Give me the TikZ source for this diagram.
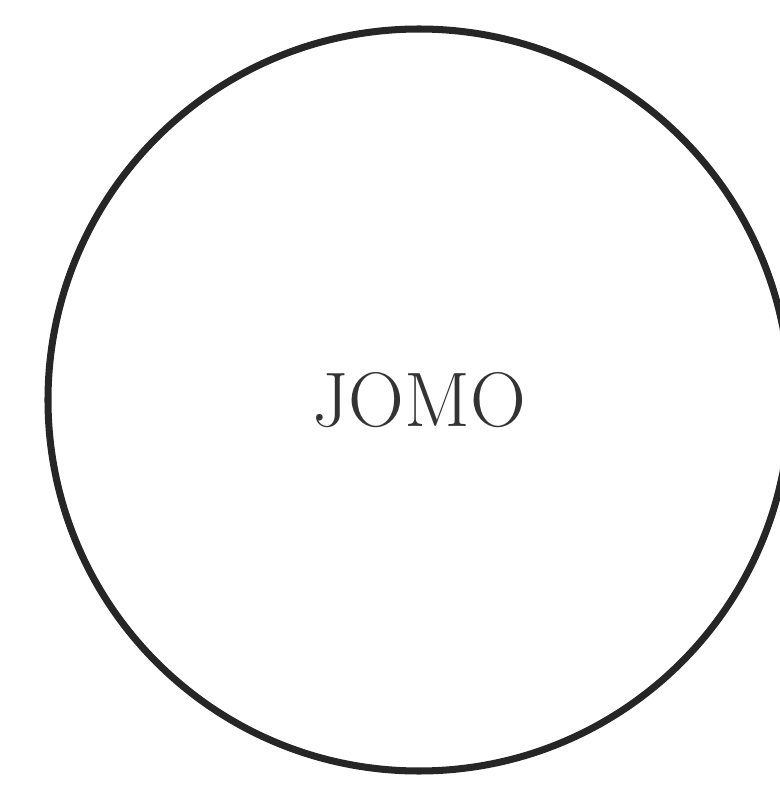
\documentclass[tikz,border=0pt]{standalone}
\usepackage{tikz}

\tikzset{
    person/.style={circle, draw=black!85, line width=2pt,
        minimum size=74.2cm/10, inner sep=0pt,
        font=\fontsize{22}{26}\selectfont, text=black!80}
}

\begin{document}
\begin{tikzpicture}

    % Frame
    \useasboundingbox (0,0) rectangle (7.8,7.9);
    \clip (0,0) rectangle (7.8,7.9);

    % Circle
    \node[person] (jomo) at (4.19,3.9) {JOMO};

\end{tikzpicture}
\end{document}
